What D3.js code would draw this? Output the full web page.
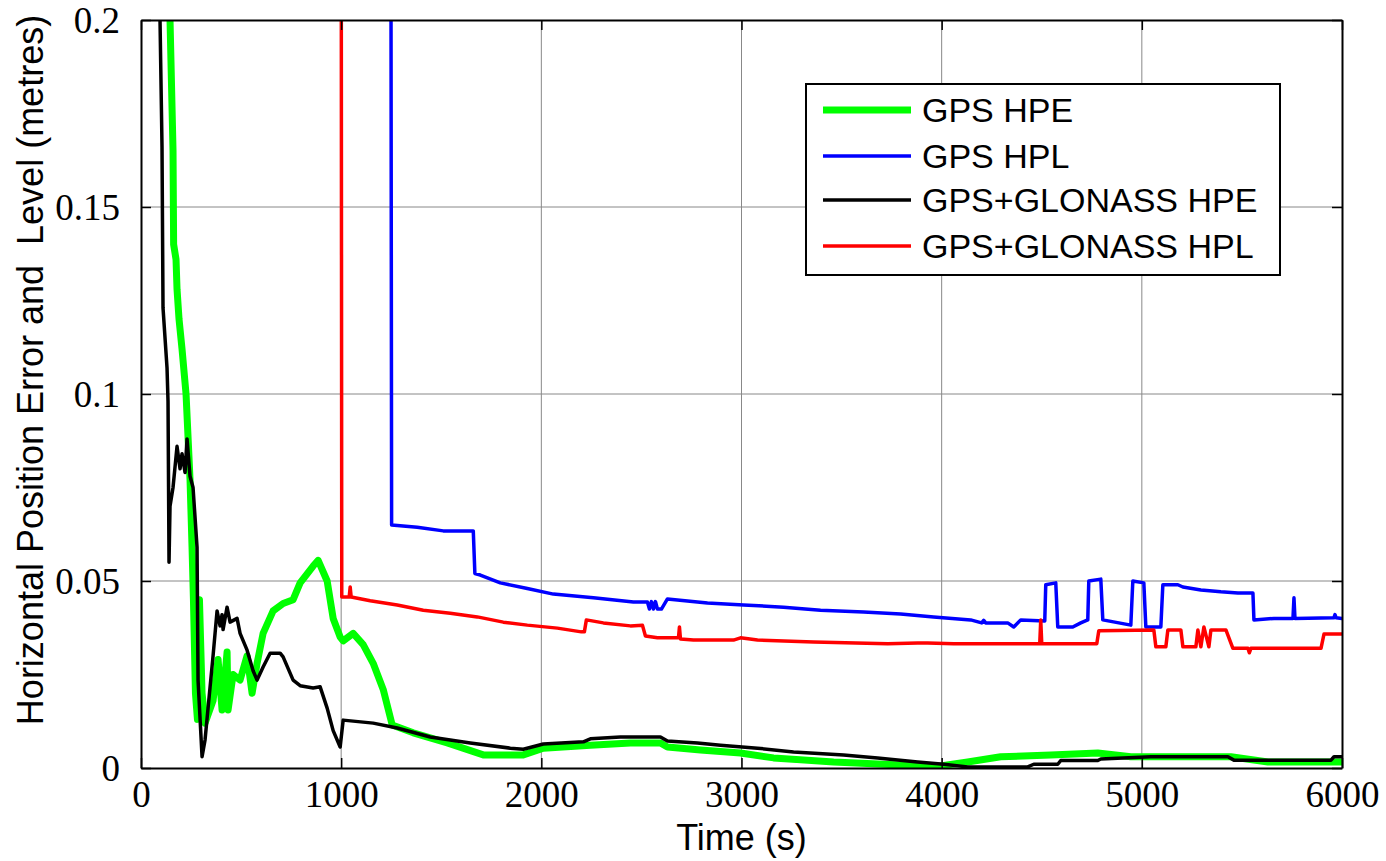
<!DOCTYPE html>
<html>
<head>
<meta charset="utf-8">
<script src="https://cdn.jsdelivr.net/npm/d3@7"></script>
<style>
  body { margin: 0; background: #fff; }
  svg { display: block; }
  .tick text { font-family: "Liberation Serif", "Times New Roman", "DejaVu Serif", serif; }
</style>
</head>
<body>
<div id="chart"></div>
<script>
// time (s), value (metres) pairs
const gpsHpe = [
  [130,0.24],[145,0.2],[160,0.165],[163,0.14],[175,0.136],[180,0.128],[190,0.12],[205,0.112],
  [225,0.1],[245,0.077],[255,0.059],[262,0.045],[272,0.02],[282,0.013],[292,0.045],[305,0.02],
  [320,0.012],[360,0.018],[385,0.029],[405,0.0155],[430,0.031],[435,0.0155],[460,0.025],
  [495,0.0235],[530,0.030],[555,0.020],[580,0.028],[610,0.036],[660,0.042],[710,0.044],
  [760,0.045],[795,0.0495],[860,0.054],[885,0.0555],[930,0.050],[960,0.040],[995,0.035],
  [1010,0.034],[1060,0.036],[1110,0.033],[1160,0.028],[1210,0.021],[1255,0.0115],[1360,0.0094],
  [1530,0.0067],[1710,0.0035],[1910,0.0035],[2010,0.0053],[2245,0.0061],[2445,0.0067],
  [2595,0.0067],[2630,0.0056],[2795,0.0048],[2995,0.004],[3160,0.0027],[3460,0.0016],
  [3795,0.0008],[3960,0.0003],[4130,0.0016],[4295,0.003],[4545,0.0035],[4780,0.004],
  [4945,0.003],[5445,0.003],[5630,0.0016],[6000,0.0016]
];

const gpsHpl = [
  [1248,0.25],[1252,0.065],[1380,0.0644],[1510,0.0634],[1660,0.0634],[1668,0.052],[1695,0.0516],
  [1795,0.0495],[1930,0.048],[2060,0.0465],[2260,0.0455],[2460,0.0444],[2530,0.0444],[2540,0.0425],
  [2550,0.0445],[2560,0.0425],[2570,0.0445],[2580,0.0425],[2600,0.0425],[2630,0.0452],[2830,0.0441],
  [3010,0.0436],[3210,0.043],[3395,0.0422],[3610,0.0417],[3795,0.0412],[3960,0.0404],[4145,0.0396],
  [4200,0.0388],[4210,0.0395],[4220,0.0388],[4330,0.0388],[4360,0.0377],[4395,0.0396],[4515,0.0393],
  [4520,0.049],[4570,0.0495],[4580,0.0377],[4655,0.0377],[4695,0.0388],[4730,0.0396],[4735,0.050],
  [4795,0.0505],[4805,0.0396],[4945,0.0382],[4955,0.050],[5010,0.0495],[5020,0.0377],[5095,0.0377],
  [5105,0.049],[5180,0.049],[5205,0.0484],[5295,0.0476],[5395,0.0471],[5480,0.0468],[5555,0.0468],
  [5560,0.0396],[5660,0.040],[5755,0.040],[5760,0.0455],[5765,0.040],[5960,0.0402],[5965,0.041],
  [5970,0.0402],[6000,0.0400]
];

const glonassHpe = [
  [80,0.25],[95,0.2],[105,0.166],[110,0.123],[130,0.107],[135,0.098],[140,0.055],[145,0.07],
  [160,0.075],[180,0.086],[195,0.080],[205,0.084],[220,0.079],[230,0.088],[245,0.078],[260,0.075],
  [280,0.059],[285,0.0235],[305,0.003],[320,0.0075],[335,0.016],[360,0.030],[380,0.042],[395,0.038],
  [405,0.041],[410,0.037],[430,0.043],[445,0.039],[480,0.040],[495,0.036],[530,0.0315],[560,0.026],
  [580,0.0235],[610,0.027],[645,0.0307],[695,0.0307],[710,0.0297],[760,0.0235],[795,0.022],
  [860,0.0214],[895,0.0217],[930,0.016],[960,0.010],[995,0.0056],[1010,0.0128],[1160,0.012],
  [1280,0.0107],[1445,0.0083],[1645,0.0067],[1845,0.0053],[1910,0.005],[2010,0.0064],[2210,0.007],
  [2245,0.0078],[2395,0.0083],[2595,0.0083],[2630,0.0072],[2780,0.0067],[2895,0.0061],[3080,0.0053],
  [3260,0.0043],[3510,0.0035],[3680,0.0027],[3880,0.0016],[4010,0.001],[4130,0.0003],[4430,0.0003],
  [4460,0.001],[4580,0.001],[4595,0.002],[4780,0.002],[4795,0.0024],[5045,0.003],[5430,0.003],
  [5460,0.0021],[5945,0.0021],[5960,0.003],[6000,0.003]
];

const glonassHpl = [
  [1000,0.25],[1003,0.0457],[1040,0.0457],[1045,0.0484],[1050,0.0457],[1145,0.0447],[1280,0.0436],
  [1410,0.0422],[1545,0.0414],[1680,0.0404],[1810,0.039],[1930,0.0382],[2080,0.0374],[2200,0.0364],
  [2215,0.0364],[2225,0.0396],[2310,0.0388],[2445,0.038],[2505,0.0382],[2520,0.0353],[2580,0.0348],
  [2685,0.0348],[2690,0.0377],[2695,0.0345],[2760,0.0342],[2960,0.0342],[2995,0.0348],[3080,0.0342],
  [3360,0.0337],[3730,0.0332],[3880,0.0334],[3930,0.0334],[4060,0.0332],[4490,0.0332],[4495,0.0396],
  [4500,0.0332],[4775,0.0332],[4785,0.0367],[5060,0.0369],[5070,0.0324],[5120,0.0324],[5130,0.0369],
  [5195,0.0369],[5205,0.0324],[5270,0.0324],[5280,0.0369],[5295,0.0324],[5310,0.0377],[5335,0.0324],
  [5345,0.0369],[5420,0.0369],[5455,0.032],[5530,0.032],[5537,0.0308],[5545,0.032],[5895,0.032],
  [5910,0.0358],[6000,0.0358]
];

const xTicks = [0, 1000, 2000, 3000, 4000, 5000, 6000];
const yTicks = [0, 0.05, 0.1, 0.15, 0.2];
const yTickLabels = ['0', '0.05', '0.1', '0.15', '0.2'];

const series = [
  { name: 'GPS HPE', data: gpsHpe, color: '#00ff00', width: 7 },
  { name: 'GPS HPL', data: gpsHpl, color: '#0000ff', width: 3.5 },
  { name: 'GPS+GLONASS HPE', data: glonassHpe, color: '#000000', width: 3.5 },
  { name: 'GPS+GLONASS HPL', data: glonassHpl, color: '#ff0000', width: 3.5 }
];

const W = 1386, H = 861;
const m = { left: 141, right: 44, top: 20, bottom: 93 };
const pw = W - m.left - m.right, ph = H - m.top - m.bottom;
const sans = '"Liberation Sans", Arial, sans-serif';

const svg = d3.select('#chart').append('svg').attr('width', W).attr('height', H);

const x = d3.scaleLinear().domain([0, 6000]).range([0, pw]);
const y = d3.scaleLinear().domain([0, 0.2]).range([ph, 0]);

const g = svg.append('g').attr('transform', `translate(${m.left},${m.top})`);

svg.append('defs').append('clipPath').attr('id', 'clip')
  .append('rect').attr('width', pw).attr('height', ph);

// grid
g.append('g').selectAll('line').data(xTicks.slice(1, -1)).join('line')
  .attr('x1', d => x(d)).attr('x2', d => x(d)).attr('y1', 0).attr('y2', ph)
  .attr('stroke', '#888').attr('stroke-width', 1);
g.append('g').selectAll('line').data(yTicks.slice(1, -1)).join('line')
  .attr('y1', d => y(d)).attr('y2', d => y(d)).attr('x1', 0).attr('x2', pw)
  .attr('stroke', '#888').attr('stroke-width', 1);

// series
const line = d3.line().x(d => x(d[0])).y(d => y(d[1]));
const plot = g.append('g').attr('clip-path', 'url(#clip)');
series.forEach(s => {
  plot.append('path').datum(s.data)
    .attr('fill', 'none').attr('stroke', s.color)
    .attr('stroke-width', s.width).attr('stroke-linejoin', 'round').attr('stroke-linecap', 'round')
    .attr('d', line);
});

// axes (ticks inside, matlab style)
const tickLen = 10;
const xAxis = g.append('g').attr('transform', `translate(0,${ph})`)
  .call(d3.axisBottom(x).tickValues(xTicks).tickSize(-tickLen).tickPadding(13)
    .tickSizeOuter(0).tickFormat(d3.format('d')));
const xTop = g.append('g')
  .call(d3.axisTop(x).tickValues(xTicks).tickSize(-tickLen).tickFormat('').tickSizeOuter(0));
const yAxis = g.append('g')
  .call(d3.axisLeft(y).tickValues(yTicks).tickSize(-tickLen).tickPadding(21).tickSizeOuter(0)
    .tickFormat((d, i) => yTickLabels[i]));
const yRight = g.append('g').attr('transform', `translate(${pw},0)`)
  .call(d3.axisRight(y).tickValues(yTicks).tickSize(-tickLen).tickFormat('').tickSizeOuter(0));

[xAxis, xTop, yAxis, yRight].forEach(a => {
  a.attr('font-family', '"Liberation Serif", "Times New Roman", serif').attr('font-size', 37);
  a.select('.domain').attr('stroke', '#000').attr('stroke-width', 2);
  a.selectAll('.tick line').attr('stroke', '#000').attr('stroke-width', 1.5);
  a.selectAll('text').attr('fill', '#000');
});
xAxis.selectAll('text').attr('dy', '0.71em');
yAxis.selectAll('text').attr('dy', '0.34em');

// axis titles
svg.append('text')
  .attr('x', m.left + pw / 2).attr('y', 850)
  .attr('text-anchor', 'middle')
  .style('font-family', sans).style('font-size', '36px')
  .text('Time (s)');

svg.append('text')
  .attr('transform', `translate(43,370) rotate(-90)`)
  .attr('text-anchor', 'middle')
  .style('font-family', sans).style('font-size', '36px')
  .style('white-space', 'pre')
  .text('Horizontal Position Error and  Level (metres)');

// legend
const lg = svg.append('g').attr('transform', 'translate(806,84)');
lg.append('rect').attr('width', 474).attr('height', 191)
  .attr('fill', '#fff').attr('stroke', '#000').attr('stroke-width', 2);
const rowY = [26, 72, 116, 162];
series.forEach((s, i) => {
  lg.append('line').attr('x1', 17).attr('x2', 105).attr('y1', rowY[i]).attr('y2', rowY[i])
    .attr('stroke', s.color).attr('stroke-width', s.width);
  lg.append('text').attr('x', 116).attr('y', rowY[i] + 12)
    .style('font-family', sans).style('font-size', '34px')
    .text(s.name);
});
</script>
</body>
</html>
